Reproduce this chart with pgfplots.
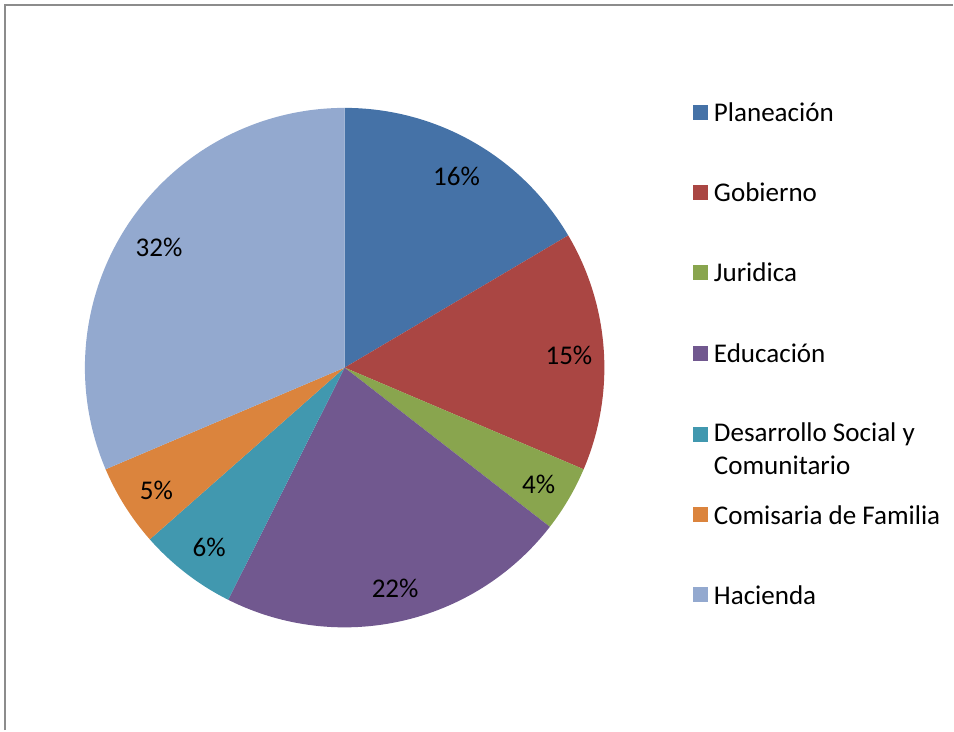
\documentclass[border=0pt]{standalone}
\usepackage{pgfplots}
\usepackage{pgfplotstable}
\pgfplotsset{compat=1.18}
\usepackage{fontspec}
\setmainfont{Carlito}
\definecolor{c0}{HTML}{4572A7}
\definecolor{c1}{HTML}{AA4643}
\definecolor{c2}{HTML}{89A54E}
\definecolor{c3}{HTML}{71588F}
\definecolor{c4}{HTML}{4198AF}
\definecolor{c5}{HTML}{DB843D}
\definecolor{c6}{HTML}{93A9CF}
\pgfplotstableread[col sep=comma]{
name,value,label
Planeación,16.5,16
Gobierno,14.9,15
Juridica,4.1,4
Educación,21.9,22
Desarrollo Social y Comunitario,6.1,6
Comisaria de Familia,5.1,5
Hacienda,31.4,32
}\piedata
\begin{document}
\begin{tikzpicture}
\begin{axis}[
  scale only axis, width=9.54cm, height=7.31cm,
  xmin=0, xmax=954, ymin=0, ymax=731,
  hide axis, clip=false,
  font=\fontsize{7.7}{9}\selectfont,
]
\path (axis cs:0,0) rectangle (axis cs:954,731);
\def\cum{0}
\pgfplotsforeachungrouped \i in {0,...,6}{%
  \pgfplotstablegetelem{\i}{value}\of\piedata \let\v\pgfplotsretval
  \pgfplotstablegetelem{\i}{label}\of\piedata \let\lab\pgfplotsretval
  \pgfmathsetmacro\sa{90-3.6*\cum}%
  \pgfmathsetmacro\ea{90-3.6*(\cum+\v)}%
  \pgfmathsetmacro\ma{(\sa+\ea)/2}%
  \edef\temp{%
    \noexpand\fill[c\i] (axis cs:345,363) -- (axis cs:{345+260*cos(\sa)},{363+260*sin(\sa)}) arc[start angle=\sa, end angle=\ea, radius=260] -- cycle;
    \noexpand\node[text=black] at (axis cs:{346+224*cos(\ma)},{360+224*sin(\ma)}) {\lab\noexpand\%};
  }%
  \temp
  \pgfmathsetmacro\cum{\cum+\v}%
}
% legend
\fill[c0] (axis cs:694,611) rectangle (axis cs:709,626);
\node[anchor=west,inner sep=0] at (axis cs:714,618.5) {Planeación};
\fill[c1] (axis cs:694,531) rectangle (axis cs:709,546);
\node[anchor=west,inner sep=0] at (axis cs:714,538.5) {Gobierno};
\fill[c2] (axis cs:694,451) rectangle (axis cs:709,466);
\node[anchor=west,inner sep=0] at (axis cs:714,458.5) {Juridica};
\fill[c3] (axis cs:694,370) rectangle (axis cs:709,385);
\node[anchor=west,inner sep=0] at (axis cs:714,377.5) {Educación};
\fill[c4] (axis cs:694,289) rectangle (axis cs:709,304);
\node[anchor=west,inner sep=0] at (axis cs:714,296.5) {Desarrollo Social y};
\node[anchor=west,inner sep=0] at (axis cs:714,265.5) {Comunitario};
\fill[c5] (axis cs:694,208) rectangle (axis cs:709,223);
\node[anchor=west,inner sep=0] at (axis cs:714,215.5) {Comisaria de Familia};
\fill[c6] (axis cs:694,128) rectangle (axis cs:709,143);
\node[anchor=west,inner sep=0] at (axis cs:714,135.5) {Hacienda};
% frame
\draw[color=black!45, line width=0.02cm] (axis cs:5.5,0) -- (axis cs:5.5,726) -- (axis cs:954,726);
\end{axis}
\end{tikzpicture}
\end{document}
